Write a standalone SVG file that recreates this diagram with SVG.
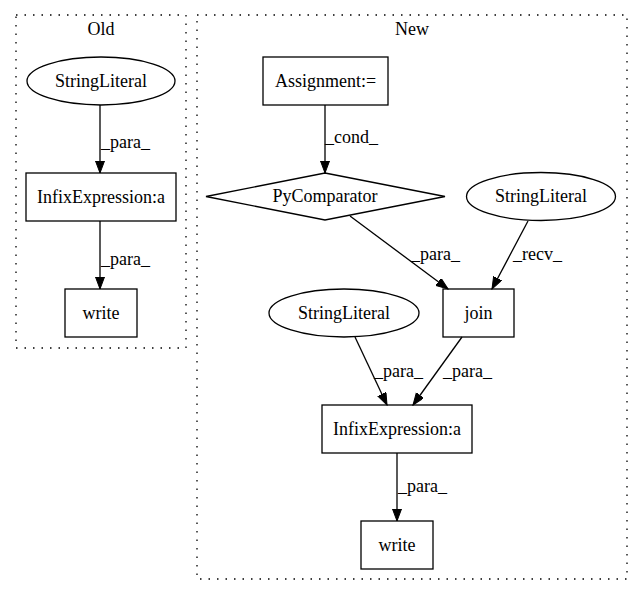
<svg xmlns="http://www.w3.org/2000/svg" width="643" height="596" viewBox="0 0 643 596">
<style>
text{font-family:"Liberation Serif","Times New Roman",serif;font-size:18px;fill:#000}
.n{fill:none;stroke:#000;stroke-width:1.3}
.c{fill:none;stroke:#000;stroke-width:1.3;stroke-dasharray:1.5,7}
.e{fill:none;stroke:#000;stroke-width:1.3;marker-end:url(#ah)}
.m{text-anchor:middle}
</style>
<defs>
<marker id="ah" markerUnits="userSpaceOnUse" markerWidth="13" markerHeight="10" refX="12" refY="4.5" orient="auto">
<path d="M0,0 L12,4.5 L0,9 z" fill="#000" stroke="#000" stroke-width="1"/>
</marker>
</defs>
<rect fill="#fff" x="0" y="0" width="643" height="596"/>
<g id="cluster_old">
<rect class="c" x="16" y="15" width="170" height="333"/>
<text class="m" x="101" y="35">Old</text>
</g>
<g id="cluster_new">
<rect class="c" x="197" y="15" width="430" height="564"/>
<text class="m" x="412" y="35">New</text>
</g>
<g id="edges">
<path class="e" d="M100,105 L100,173"/>
<text x="101" y="148">_para_</text>
<path class="e" d="M100,221 L100,289"/>
<text x="101" y="265">_para_</text>
<path class="e" d="M325,105 L325,173"/>
<text x="325" y="143">_cond_</text>
<path class="e" d="M350,216 L448,289"/>
<text x="411" y="260">_para_</text>
<path class="e" d="M528,221 L492,289"/>
<text x="513" y="260">_recv_</text>
<path class="e" d="M355,337 L387,405"/>
<text x="374" y="377">_para_</text>
<path class="e" d="M462,337 L413,405"/>
<text x="443" y="377">_para_</text>
<path class="e" d="M397,453 L397,521"/>
<text x="398" y="492">_para_</text>
</g>
<g id="old_stringliteral">
<ellipse class="n" cx="101" cy="81" rx="74" ry="24"/>
<text class="m" x="101" y="87">StringLiteral</text>
</g>
<g id="old_infix">
<rect class="n" x="26" y="173" width="150" height="48"/>
<text class="m" x="101" y="203">InfixExpression:a</text>
</g>
<g id="old_write">
<rect class="n" x="65" y="289" width="72" height="48"/>
<text class="m" x="101" y="319">write</text>
</g>
<g id="new_assignment">
<rect class="n" x="263" y="57" width="125" height="48"/>
<text class="m" x="325.5" y="87">Assignment:=</text>
</g>
<g id="new_pycomparator">
<polygon class="n" points="325,173 445,196.5 325,220 206,196.5"/>
<text class="m" x="325" y="202">PyComparator</text>
</g>
<g id="new_stringliteral_recv">
<ellipse class="n" cx="541" cy="196.5" rx="74.5" ry="24"/>
<text class="m" x="541" y="202">StringLiteral</text>
</g>
<g id="new_join">
<rect class="n" x="443" y="289" width="71" height="48"/>
<text class="m" x="478.5" y="319">join</text>
</g>
<g id="new_stringliteral_para">
<ellipse class="n" cx="344" cy="313" rx="75" ry="24"/>
<text class="m" x="344" y="319">StringLiteral</text>
</g>
<g id="new_infix">
<rect class="n" x="322" y="405" width="150" height="48"/>
<text class="m" x="397" y="435">InfixExpression:a</text>
</g>
<g id="new_write">
<rect class="n" x="361" y="521" width="72" height="48"/>
<text class="m" x="397" y="551">write</text>
</g>
</svg>
